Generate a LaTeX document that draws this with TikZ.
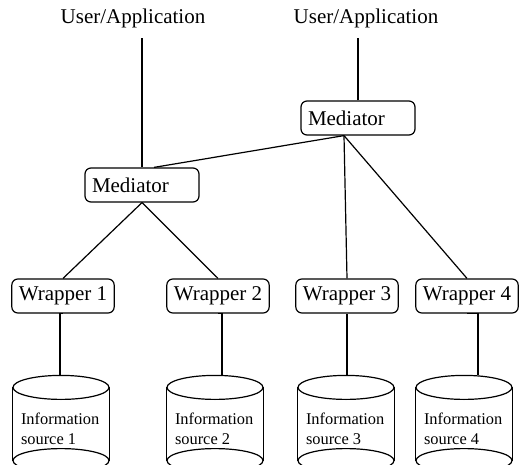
\documentclass[tikz,border=0pt]{standalone}
\usepackage{fontspec}
\setmainfont{Liberation Serif}
\usetikzlibrary{positioning}
\tikzset{
  box/.style={draw, rounded corners=6pt, minimum height=34, inner xsep=7,
    font=\rmfamily\fontsize{21}{24}\selectfont},
  medbox/.style={box, text width=100, align=left},
  user/.style={inner sep=0, outer sep=10, font=\rmfamily\fontsize{21}{24}\selectfont},
  src/.style={minimum width=96, minimum height=72, inner sep=0},
  srctext/.style={inner sep=0, anchor=base west, align=left,
    font=\rmfamily\fontsize{16.4}{20}\selectfont},
}
\begin{document}
\begin{tikzpicture}[x=1pt, y=-1pt, line width=1.2pt]
    \clip (0,0) rectangle (525,465);
    \node[user] (ua1) at (133,18) {User/Application};
    \node[user] (ua2) at (366,18) {User/Application};
    \node[medbox] (med2) at (358,118) {Mediator};
    \node[medbox] (med1) at (142,185) {Mediator};
    \node[box] (w1) at (63,296) {Wrapper 1};
    \node[box] (w2) at (218,296) {Wrapper 2};
    \node[box] (w3) at (347,296) {Wrapper 3};
    \node[box] (w4) at (467,296) {Wrapper 4};
    % information sources
    \foreach \i/\x in {1/61,2/215,3/346,4/464} {
        \node[src] (s\i) at (\x,424) {};
        \draw (s\i.north) ellipse (48 and 12);
        \draw (s\i.south) ellipse (48 and 12);
        \draw (s\i.north west) -- (s\i.south west) (s\i.north east) -- (s\i.south east);
        \node[srctext] (t\i) at ([xshift=8,yshift=-57]s\i.north west) {Information\\source \i};
    }
    % connectors
    \draw (med1.north) -- (med1.north |- ua1.south);
    \draw (med2.north) -- (med2.north |- ua2.south);
    \coordinate (m2) at ([xshift=-14]med2.south);
    \draw (m2) -- ([xshift=12]med1.north);
    \draw (m2) -- (w3.north);
    \draw (m2) -- (w4.north);
    \draw (med1.south) -- (w1.north);
    \draw (med1.south) -- (w2.north);
    \foreach \i/\dx in {1/-1,2/7,3/1,4/14}
        \draw ([xshift=\dx,yshift=12]s\i.north) |- (w\i.south);
\end{tikzpicture}
\end{document}
